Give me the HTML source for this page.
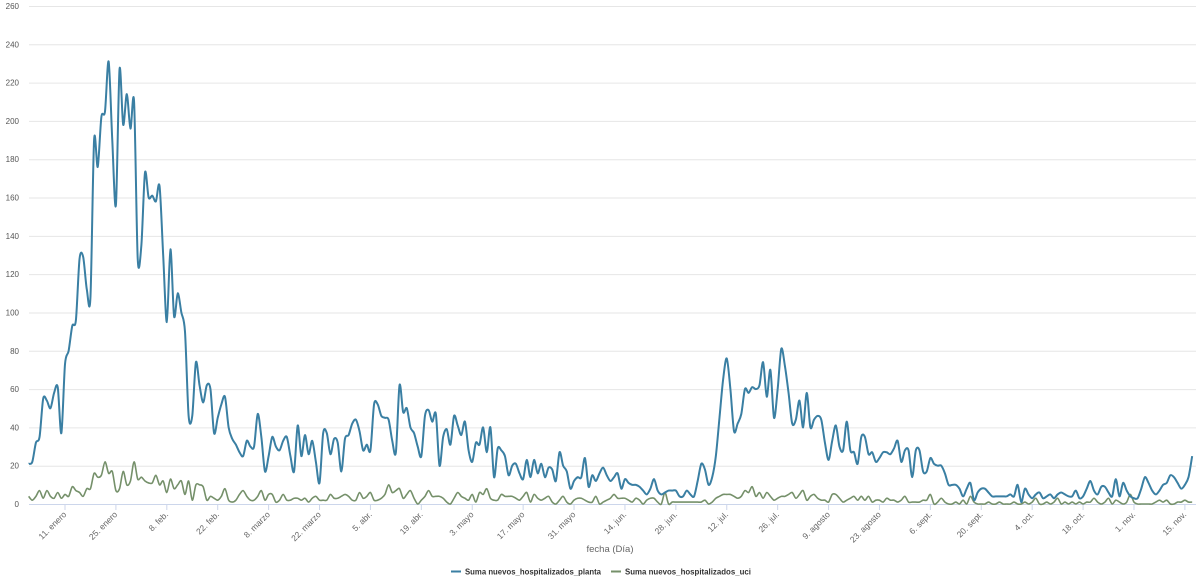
<!DOCTYPE html>
<html><head><meta charset="utf-8"><style>
html,body{margin:0;padding:0;background:#fff;}
svg{display:block;font-family:"Liberation Sans",sans-serif;}
</style></head><body>
<svg id="chart" width="1200" height="584" viewBox="0 0 1200 584" xmlns="http://www.w3.org/2000/svg">
<g id="grid"></g>
<g id="ylabels"></g>
<g id="xlabels"></g>
<g id="series"></g>
<text x="610" y="552" font-size="9.5" fill="#666" text-anchor="middle">fecha (Día)</text>
<g>
<g>
<line x1="451" y1="571.5" x2="461" y2="571.5" stroke="#3a7fa3" stroke-width="2"/>
<text x="465" y="574.5" font-size="8.5" font-weight="bold" fill="#333" textLength="136" lengthAdjust="spacingAndGlyphs">Suma nuevos_hospitalizados_planta</text>
</g>
<g>
<line x1="611" y1="571.5" x2="621" y2="571.5" stroke="#75906a" stroke-width="2"/>
<text x="625" y="574.5" font-size="8.5" font-weight="bold" fill="#333" textLength="126" lengthAdjust="spacingAndGlyphs">Suma nuevos_hospitalizados_uci</text>
</g>
</g>
</svg>
<script>
const yTicks=[0,20,40,60,80,100,120,140,160,180,200,220,240,260];
const xTickLabels=["11. enero","25. enero","8. feb.","22. feb.","8. marzo","22. marzo","5. abr.","19. abr.","3. mayo","17. mayo","31. mayo","14. jun.","28. jun.","12. jul.","26. jul.","9. agosto","23. agosto","6. sept.","20. sept.","4. oct.","18. oct.","1. nov.","15. nov."];
const xTickDays=[10,24,38,52,66,80,94,108,122,136,150,164,178,192,206,220,234,248,262,276,290,304,318];
const planta=[21,22,32,35,55,54,50,58,61,37,
73,80,93,96,128,129,112,108,190,176,
202,205,231,190,156,227,198,214,196,210,
128,135,173,160,161,158,166,130,95,133,
98,110,100,90,46,46,74,62,53,62,
60,37,45,52,56,40,34,31,27,25,
33,30,30,47,35,17,25,35,30,28,
33,35,25,17,41,25,36,26,33,22,
11,37,37,26,34,32,17,34,36,42,
44,38,28,31,28,52,52,46,45,44,
33,27,62,48,50,40,37,30,25,46,
49,43,47,20,35,39,31,46,41,36,
43,28,22,32,31,40,27,40,14,29,
28,25,15,20,21,16,13,23,14,23,
16,21,14,19,18,12,27,20,17,8,
12,14,14,24,9,15,12,16,19,15,
12,14,16,8,13,11,10,10,9,7,
5,8,13,7,5,6,7,7,7,4,
4,7,5,4,12,21,18,10,14,25,
45,65,76,60,38,42,47,60,58,61,
60,62,74,56,70,45,60,81,72,58,
42,44,54,40,58,40,44,46,44,32,
23,33,41,30,28,43,28,27,21,35,
35,26,27,22,24,27,27,26,29,33,
22,28,28,14,28,28,17,17,24,21,
20,20,16,10,10,10,8,4,8,11,
2,6,8,8,6,4,4,4,4,4,
5,4,10,1,8,5,3,5,6,3,
4,5,3,5,6,5,4,4,7,3,
4,8,12,7,5,9,9,6,4,13,
4,11,7,4,3,3,8,14,11,7,
5,7,10,11,15,14,11,8,10,14,25];
const uci=[4,2,4,7,3,7,4,3,6,3,
5,4,9,7,6,4,8,8,16,14,
15,22,16,17,7,8,17,10,12,22,
13,14,12,11,11,15,10,12,6,13,
8,10,12,5,12,2,10,10,9,2,
4,3,2,4,8,2,1,2,5,7,
4,2,2,4,7,2,5,5,1,2,
5,2,2,3,3,2,3,1,3,4,
2,2,2,5,3,3,4,5,4,2,
2,6,3,4,6,2,2,3,5,10,
6,7,8,3,5,7,3,0,2,4,
7,4,4,4,3,1,0,3,6,4,
3,2,5,1,6,5,8,3,2,2,
5,4,4,4,3,2,4,6,1,5,
3,2,3,4,1,0,2,4,1,0,
2,3,3,2,1,1,4,0,1,2,
3,5,3,3,3,2,1,3,2,0,
2,3,3,1,0,6,0,1,1,1,
1,1,1,1,1,1,2,0,1,3,
4,5,5,5,4,3,4,7,6,9,
4,6,3,6,4,2,3,4,4,5,
6,3,5,7,2,4,5,3,2,2,
1,5,5,3,1,2,3,4,2,4,
2,4,1,2,2,1,3,2,2,1,
2,4,1,1,1,1,2,2,5,0,
1,3,1,0,0,1,0,2,0,4,
1,0,0,0,1,0,0,1,0,0,
0,1,0,0,1,0,1,3,0,0,
1,0,1,3,0,1,0,1,0,1,
0,1,1,3,1,0,1,3,0,2,
1,0,1,5,1,0,0,0,0,0,
1,2,1,2,0,0,1,1,2,1,1];

const NS="http://www.w3.org/2000/svg";
function xScale(d){return 65+(d-10)*3.636;}
function yScale(v){return 504-v*(498/260);}
const gridG=document.getElementById('grid'),ylG=document.getElementById('ylabels'),xlG=document.getElementById('xlabels'),sG=document.getElementById('series');
yTicks.forEach(function(t){
  const l=document.createElementNS(NS,'line');
  
  
  l.setAttribute('x1',29);l.setAttribute('x2',1196);
  l.setAttribute('y1',yScale(t)+0.5);l.setAttribute('y2',yScale(t)+0.5);
  l.setAttribute('stroke',t===0?'#ccd6eb':'#e6e6e6');l.setAttribute('stroke-width',1);
  gridG.appendChild(l);
  const tx=document.createElementNS(NS,'text');
  
  
  tx.setAttribute('x',19);tx.setAttribute('y',yScale(t)+3);
  tx.setAttribute('font-size','8');tx.setAttribute('fill','#555');tx.setAttribute('text-anchor','end');
  tx.textContent=t;ylG.appendChild(tx);
});
xTickLabels.forEach(function(lab,i){
  const x=xScale(xTickDays[i]);
  const tk=document.createElementNS(NS,'line');
  
  
  tk.setAttribute('x1',x);tk.setAttribute('x2',x);tk.setAttribute('y1',505);tk.setAttribute('y2',510);
  tk.setAttribute('stroke','#ccd6eb');xlG.appendChild(tk);
  const tx=document.createElementNS(NS,'text');
  
  
  tx.setAttribute('transform','translate('+(x+2)+',515) rotate(-45)');
  tx.setAttribute('font-size','8.5');tx.setAttribute('fill','#666');tx.setAttribute('text-anchor','end');
  tx.textContent=lab;xlG.appendChild(tx);
});
function spline(vals){
  const p=vals.map(function(v,i){return [xScale(i),yScale(v)];});
  let d='M'+p[0][0].toFixed(2)+','+p[0][1].toFixed(2);
  const k=1/(2*2.5*1.33);
  for(let i=1;i<p.length;i++){
    const p0=p[i-2]||p[i-1],p1=p[i-1],p2=p[i],p3=p[i+1]||p[i];
    const c1x=p1[0]+(p2[0]-p0[0])*k,c1y=p1[1]+(p2[1]-p0[1])*k;
    const c2x=p2[0]-(p3[0]-p1[0])*k,c2y=p2[1]-(p3[1]-p1[1])*k;
    d+='C'+c1x.toFixed(2)+','+c1y.toFixed(2)+' '+c2x.toFixed(2)+','+c2y.toFixed(2)+' '+p2[0].toFixed(2)+','+p2[1].toFixed(2);
  }
  return d;
}
const pu=document.createElementNS(NS,'path');


pu.setAttribute('d',spline(uci));pu.setAttribute('fill','none');pu.setAttribute('stroke','#75906a');pu.setAttribute('stroke-width','1.6');
sG.appendChild(pu);
const pp=document.createElementNS(NS,'path');


pp.setAttribute('d',spline(planta));pp.setAttribute('fill','none');pp.setAttribute('stroke','#3a7fa3');pp.setAttribute('stroke-width','2');
sG.appendChild(pp);
</script>
</body></html>
